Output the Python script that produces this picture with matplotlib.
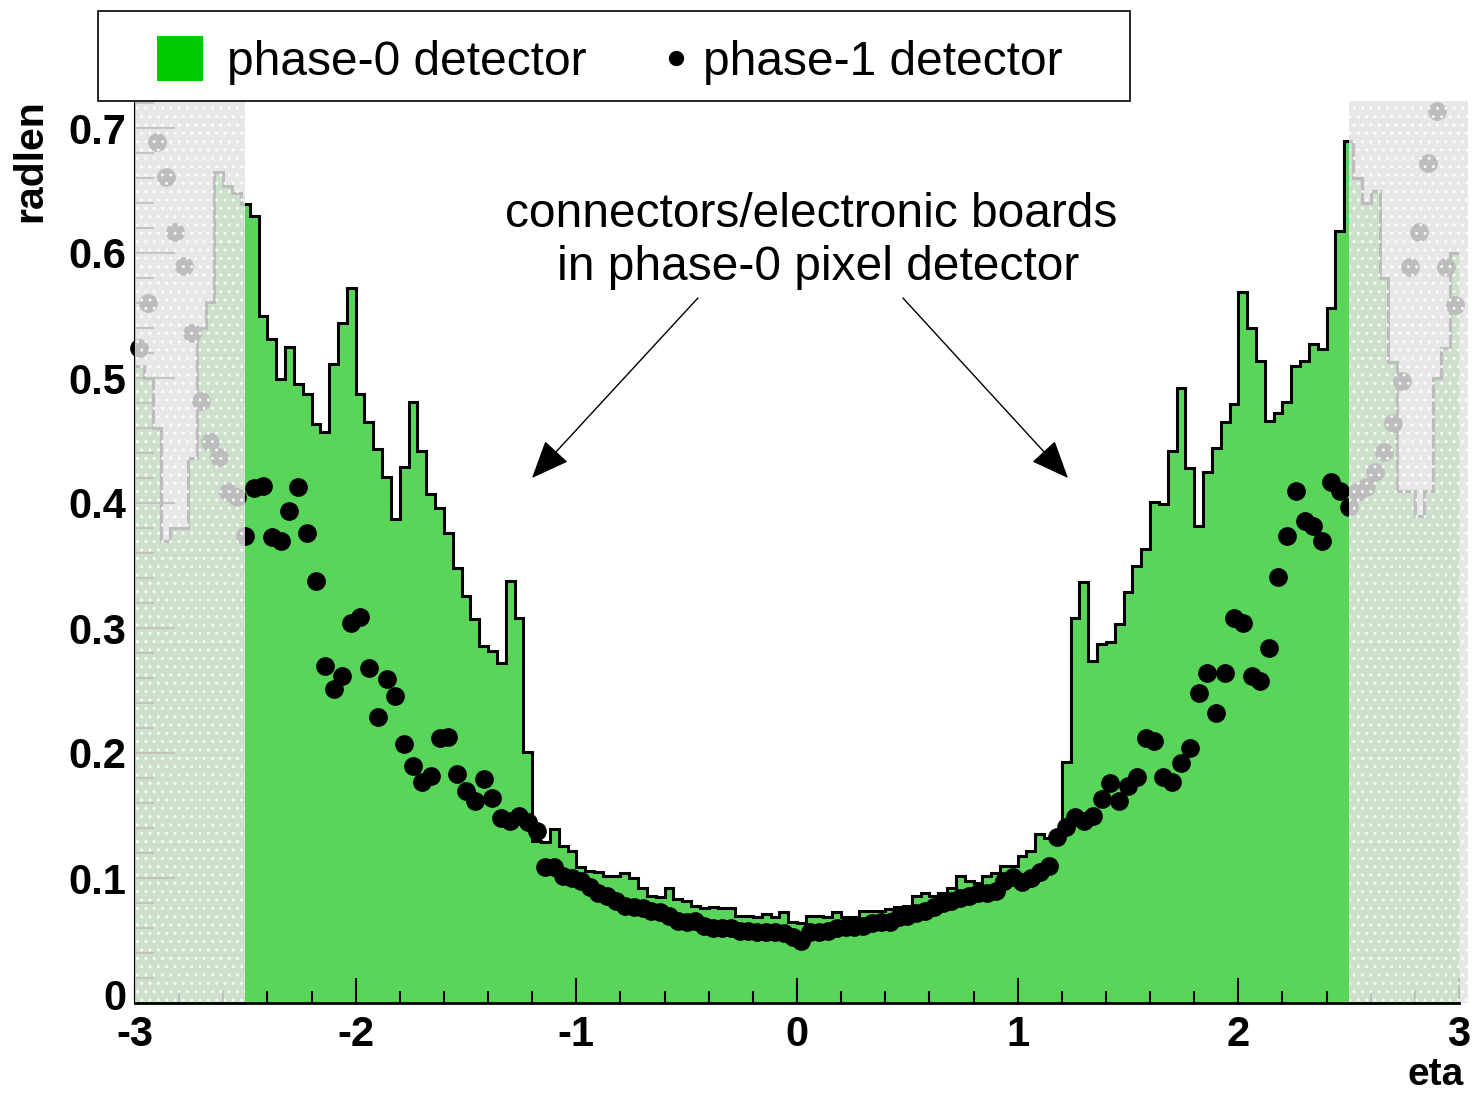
import matplotlib
matplotlib.use('Agg')
import matplotlib.pyplot as plt
from matplotlib.patches import Rectangle
from matplotlib import font_manager
import matplotlib.transforms as mtransforms
import numpy as np

plt.rcParams['axes.unicode_minus'] = False

# ---------------- data ----------------
# 150 bins of width 0.04 from eta = -3 to 3
eta_edges = np.round(np.linspace(-3.0, 3.0, 151), 2)

phase0_radlen = [
    # -3.00 .. -2.52
    0.510, 0.500, 0.460, 0.370, 0.380, 0.380, 0.436, 0.540, 0.561, 0.665, 0.654, 0.648,
    # -2.52 .. -1.20
    0.639, 0.630, 0.550, 0.531, 0.499, 0.525, 0.495, 0.487, 0.463, 0.457, 0.511, 0.544,
    0.572, 0.487, 0.465, 0.443, 0.421, 0.387, 0.429, 0.481, 0.442, 0.407, 0.396, 0.376,
    0.348, 0.326, 0.307, 0.286, 0.282, 0.272, 0.338, 0.308, 0.201,
    # -1.20 .. 0
    0.130, 0.129, 0.139, 0.126, 0.122, 0.109, 0.106, 0.105, 0.102, 0.102, 0.104, 0.100,
    0.092, 0.086, 0.085, 0.092, 0.083, 0.082, 0.078, 0.076, 0.077, 0.076, 0.076, 0.070,
    0.070, 0.069, 0.071, 0.069, 0.073, 0.065,
    # 0 .. 1.20
    0.064, 0.070, 0.070, 0.069, 0.073, 0.069, 0.069, 0.074, 0.074, 0.074, 0.075, 0.077,
    0.078, 0.086, 0.088, 0.086, 0.088, 0.092, 0.102, 0.098, 0.096, 0.102, 0.104, 0.110,
    0.110, 0.118, 0.122, 0.135, 0.132, 0.136,
    # 1.20 .. 2.52
    0.193, 0.308, 0.337, 0.274, 0.287, 0.289, 0.303, 0.329, 0.350, 0.363, 0.401, 0.399,
    0.442, 0.492, 0.428, 0.382, 0.425, 0.444, 0.465, 0.479, 0.569, 0.540, 0.514, 0.466,
    0.472, 0.481, 0.510, 0.514, 0.527, 0.523, 0.556, 0.618, 0.690,
    # 2.52 .. 3.00
    0.660, 0.640, 0.650, 0.580, 0.513, 0.410, 0.410, 0.390, 0.410, 0.500, 0.524, 0.600,
]

phase1_eta = np.round(np.linspace(-2.98, 2.98, 150), 2)
phase1_radlen = [
    # -2.98 .. -2.54
    0.524, 0.560, 0.689, 0.661, 0.617, 0.590, 0.536, 0.482, 0.449, 0.437, 0.409, 0.405,
    # -2.50 .. -1.18
    0.374, 0.412, 0.414, 0.373, 0.370, 0.394, 0.413, 0.376, 0.338, 0.270, 0.251, 0.262,
    0.304, 0.309, 0.268, 0.229, 0.259, 0.246, 0.207, 0.190, 0.177, 0.182, 0.212, 0.213,
    0.183, 0.170, 0.162, 0.179, 0.164, 0.148, 0.146, 0.150, 0.145, 0.138,
    # -1.14 .. -0.02
    0.109, 0.109, 0.102, 0.100, 0.098, 0.093, 0.088, 0.086, 0.082, 0.078, 0.077, 0.076,
    0.074, 0.073, 0.070, 0.066, 0.065, 0.066, 0.062, 0.060, 0.060, 0.060, 0.058, 0.058,
    0.057, 0.057, 0.057, 0.056, 0.053,
    # 0.02 .. 1.14
    0.050, 0.057, 0.057, 0.058, 0.060, 0.061, 0.061, 0.062, 0.064, 0.065, 0.065, 0.069,
    0.070, 0.072, 0.074, 0.077, 0.080, 0.082, 0.084, 0.086, 0.088, 0.088, 0.090, 0.098,
    0.101, 0.097, 0.100, 0.105, 0.110,
    # 1.18 .. 2.50
    0.133, 0.141, 0.149, 0.146, 0.150, 0.163, 0.176, 0.162, 0.174, 0.181, 0.212, 0.210,
    0.181, 0.177, 0.192, 0.204, 0.248, 0.264, 0.232, 0.264, 0.308, 0.304, 0.262, 0.258,
    0.284, 0.341, 0.374, 0.410, 0.386, 0.382, 0.370, 0.417, 0.410, 0.397,
    # 2.54 .. 2.98
    0.409, 0.413, 0.425, 0.441, 0.464, 0.498, 0.589, 0.617, 0.672, 0.714, 0.589, 0.558,
]

x_ticks = [-3, -2, -1, 0, 1, 2, 3]
x_tick_labels = ['-3', '-2', '-1', '0', '1', '2', '3']
y_ticks = [0, 0.1, 0.2, 0.3, 0.4, 0.5, 0.6, 0.7]
y_tick_labels = ['0', '0.1', '0.2', '0.3', '0.4', '0.5', '0.6', '0.7']
legend_labels = ['phase-0 detector', 'phase-1 detector']
annotation_lines = ['connectors/electronic boards', 'in phase-0 pixel detector']
excluded_ranges = [(-3.0, -2.5), (2.5, 3.04)]

# ---------------- styling ----------------
W, H = 1473, 1094
available = {f.name for f in font_manager.fontManager.ttflist}
if 'Liberation Sans Narrow' in available:
    text_family = ['Liberation Sans Narrow', 'Liberation Sans', 'DejaVu Sans']
    narrow_scale = 1.0
else:
    text_family = ['Liberation Sans', 'DejaVu Sans']
    narrow_scale = 0.82
bold_family = ['Liberation Sans', 'DejaVu Sans']

GREEN_FILL = '#59d659'
GREEN_LEG = '#00cc00'

fig = plt.figure(figsize=(W / 100, H / 100), dpi=100)
ax = fig.add_axes([135 / W, 1 - 1003 / H, (1459 - 135) / W, (1003 - 101) / H])
ax.set_xlim(-3, 3)
ax.set_ylim(0, 0.7216)

# phase-0 histogram
ax.stairs(phase0_radlen, eta_edges, fill=True, color=GREEN_FILL, zorder=1)
ax.stairs(phase0_radlen, eta_edges, baseline=None, color='black', lw=2.2, zorder=1.5)

# phase-1 points
ax.plot(phase1_eta, phase1_radlen, 'o', color='black', ms=13.5, mew=0,
        zorder=4, clip_on=False)

# grey excluded regions
for lo, hi in excluded_ranges:
    r = Rectangle((lo, 0), hi - lo, 0.7216, facecolor='#e3e3e3', edgecolor='white',
                  hatch='..', lw=0, alpha=0.84, zorder=5, clip_on=False)
    ax.add_patch(r)

# axes styling
for s in ['top', 'right']:
    ax.spines[s].set_visible(False)
ax.spines['bottom'].set_linewidth(2.0)
ax.spines['bottom'].set_zorder(6)
ax.spines['left'].set_linewidth(1.5)

ax.set_xticks(x_ticks)
ax.set_xticklabels(x_tick_labels)
ax.set_xticks(np.round(np.arange(-3, 3.01, 0.2), 2), minor=True)
ax.set_yticks(y_ticks)
ax.set_yticklabels(y_tick_labels)
ax.set_yticks(np.round(np.arange(0, 0.721, 0.02), 2), minor=True)
ax.tick_params(axis='x', which='major', direction='in', length=18, width=1.5, pad=9)
ax.tick_params(axis='x', which='minor', direction='in', length=9, width=1.5)
ax.tick_params(axis='y', which='major', direction='in', length=29, width=1.2, pad=6)
ax.tick_params(axis='y', which='minor', direction='in', length=14, width=1.2)
for lab in ax.get_xticklabels() + ax.get_yticklabels():
    lab.set_fontfamily(bold_family)
    lab.set_fontweight('bold')
    lab.set_fontsize(30)
# lift the "0" label a little so it does not collide with "-3"
zero_lab = ax.get_yticklabels()[0]
zero_lab.set_transform(zero_lab.get_transform() +
                       mtransforms.ScaledTranslation(0, 9 / 100, fig.dpi_scale_trans))

# axis titles
fig.text(30 / W, 1 - 99 / H, 'radlen', rotation=90, ha='center', va='top',
         fontsize=29.5, fontweight='bold', family=bold_family)
fig.text(1464 / W, 1 - 1085 / H, 'eta', ha='right', va='baseline',
         fontsize=28, fontweight='bold', family=bold_family)

# annotation with arrows
ax.annotate('', xy=(-1.201, 0.420), xytext=(-0.449, 0.564),
            arrowprops=dict(arrowstyle='-|>,head_length=0.6,head_width=0.25',
                            color='black', lw=1.0, mutation_scale=40,
                            shrinkA=0, shrinkB=0), zorder=7)
ax.annotate('', xy=(1.228, 0.420), xytext=(0.480, 0.564),
            arrowprops=dict(arrowstyle='-|>,head_length=0.6,head_width=0.25',
                            color='black', lw=1.0, mutation_scale=40,
                            shrinkA=0, shrinkB=0), zorder=7)
fig.text(811.5 / W, 1 - 227 / H, annotation_lines[0], ha='center', va='baseline',
         fontsize=42 * narrow_scale, family=text_family)
fig.text(818 / W, 1 - 280 / H, annotation_lines[1], ha='center', va='baseline',
         fontsize=42 * narrow_scale, family=text_family)

# legend (drawn manually in figure pixels)
fig.patches.append(Rectangle((98 / W, 1 - 101 / H), (1130 - 98) / W, 90 / H,
                             transform=fig.transFigure, facecolor='white',
                             edgecolor='black', lw=1.2, zorder=10))
fig.patches.append(Rectangle((157 / W, 1 - 81 / H), 46 / W, 45 / H,
                             transform=fig.transFigure, facecolor=GREEN_LEG,
                             edgecolor='none', zorder=11))
fig.text(227 / W, 1 - 75 / H, legend_labels[0], ha='left', va='baseline',
         fontsize=42 * narrow_scale, family=text_family, zorder=11)
fig.lines.append(plt.Line2D([676 / W], [1 - 58 / H], marker='o', color='black',
                            ms=11, mew=0, transform=fig.transFigure, zorder=11))
fig.text(703 / W, 1 - 75 / H, legend_labels[1], ha='left', va='baseline',
         fontsize=42 * narrow_scale, family=text_family, zorder=11)

fig.savefig('out.png', dpi=100)
